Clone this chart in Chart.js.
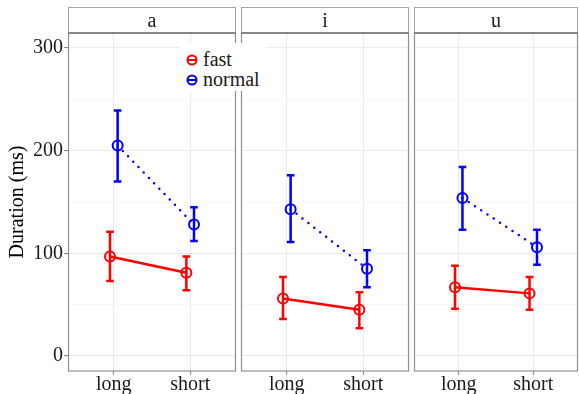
<!DOCTYPE html>
<html>
<head>
<meta charset="utf-8">
<script src="https://cdn.jsdelivr.net/npm/chart.js@4"></script>
<style>
  html, body { margin: 0; padding: 0; background: #fff; overflow: hidden; }
  #wrap { position: relative; width: 579px; height: 394px; }
  canvas { position: absolute; top: 0; }
  #legend { position: absolute; left: 180px; top: 43px; width: 86px; height: 48px; background: #fff;
            font-family: 'Liberation Serif', serif; font-size: 20px; color: #1a1a1a; }
  .item { position: absolute; left: 0; height: 20px; line-height: 20px; }
  .item svg { position: absolute; left: 5px; top: 3px; }
  .item span { position: absolute; left: 23px; top: -1px; white-space: nowrap; }
</style>
</head>
<body>
<div id="wrap">
  <canvas id="c0" width="238" height="394" style="left:0px"></canvas>
  <canvas id="c1" width="172" height="394" style="left:239px"></canvas>
  <canvas id="c2" width="167" height="394" style="left:412px"></canvas>
  <div id="legend">
    <div class="item" style="top:7px">
      <svg width="14" height="14"><circle cx="7" cy="7" r="4.5" fill="none" stroke="#FF0000" stroke-width="2"/><line x1="3" y1="7" x2="11" y2="7" stroke="#FF0000" stroke-width="2"/></svg>
      <span>fast</span>
    </div>
    <div class="item" style="top:27px">
      <svg width="14" height="14"><circle cx="7" cy="7" r="4.5" fill="none" stroke="#0000FF" stroke-width="2"/><line x1="3" y1="7" x2="11" y2="7" stroke="#0000FF" stroke-width="2"/></svg>
      <span>normal</span>
    </div>
  </div>
</div>
<script>
const vowels = ['a', 'i', 'u'];
const lengths = ['long', 'short'];
const fastMean = [[97, 81], [56, 45], [67, 61]];
const fastLo = [[73, 64], [36, 27], [46, 45]];
const fastHi = [[121, 97], [77, 62], [88, 77]];
const normalMean = [[205, 128], [143, 85], [154, 106]];
const normalLo = [[170, 112], [111, 67], [123, 89]];
const normalHi = [[239, 145], [176, 103], [184, 123]];
const yTicks = [0, 100, 200, 300];

const serif = 'Liberation Serif';
const dodge = 0.05;

function errorBars(k) {
  return {
    id: 'errorBars' + k,
    beforeDatasetsDraw(chart) {
      const c = chart.ctx, xs = chart.scales.x, ys = chart.scales.y;
      const series = [
        { lo: fastLo[k], hi: fastHi[k], off: -dodge, color: '#FF0000' },
        { lo: normalLo[k], hi: normalHi[k], off: dodge, color: '#0000FF' }
      ];
      c.save();
      c.lineWidth = 2.5;
      series.forEach(s => {
        c.strokeStyle = s.color;
        for (let i = 0; i < lengths.length; i++) {
          const x = xs.getPixelForValue(i + 1 + s.off);
          const y1 = ys.getPixelForValue(s.lo[i]);
          const y2 = ys.getPixelForValue(s.hi[i]);
          c.beginPath();
          c.moveTo(x, y1); c.lineTo(x, y2);
          c.moveTo(x - 3.8, y1); c.lineTo(x + 3.8, y1);
          c.moveTo(x - 3.8, y2); c.lineTo(x + 3.8, y2);
          c.stroke();
        }
      });
      c.restore();
    }
  };
}

function facetFrame(k) {
  return {
    id: 'facetFrame' + k,
    afterDraw(chart) {
      const c = chart.ctx, a = chart.chartArea;
      c.save();
      // strip
      c.strokeStyle = '#a6a6a6';
      c.lineWidth = 1;
      c.strokeRect(a.left + 0.5, 7.5, a.right - a.left - 1, a.top - 7.5);
      c.fillStyle = '#1a1a1a';
      c.font = '20px ' + serif;
      c.textAlign = 'center';
      c.textBaseline = 'middle';
      c.fillText(vowels[k], (a.left + a.right) / 2, 21.5);
      // panel border
      c.strokeStyle = '#8f8f8f';
      c.lineWidth = 1.2;
      c.strokeRect(a.left + 0.5, a.top, a.right - a.left - 1, a.bottom - a.top);
      c.strokeStyle = '#7a7a7a';
      c.lineWidth = 1.6;
      c.beginPath(); c.moveTo(a.left, a.top); c.lineTo(a.right, a.top); c.stroke();
      c.restore();
    }
  };
}

vowels.forEach((v, k) => {
  const first = k === 0;
  const pad = [{ top: 33, left: 0, right: 2, bottom: 0 },
               { top: 33, left: 2, right: 2, bottom: 0 },
               { top: 33, left: 2, right: 1, bottom: 0 }][k];
  new Chart(document.getElementById('c' + k), {
    type: 'line',
    data: {
      datasets: [
        {
          label: 'fast',
          data: lengths.map((l, i) => ({ x: i + 1 - dodge, y: fastMean[k][i] })),
          borderColor: '#FF0000',
          borderWidth: 2.5,
          pointRadius: 5,
          pointBorderWidth: 2,
          pointBorderColor: '#FF0000',
          pointBackgroundColor: 'rgba(0,0,0,0)',
          tension: 0
        },
        {
          label: 'normal',
          data: lengths.map((l, i) => ({ x: i + 1 + dodge, y: normalMean[k][i] })),
          borderColor: '#0000FF',
          borderWidth: 2.5,
          borderDash: [0, 7.5],
          borderCapStyle: 'round',
          pointRadius: 5,
          pointBorderWidth: 2,
          pointBorderColor: '#0000FF',
          pointBackgroundColor: 'rgba(0,0,0,0)',
          tension: 0
        }
      ]
    },
    options: {
      responsive: false,
      animation: false,
      events: [],
      layout: { padding: pad, autoPadding: false },
      plugins: { legend: { display: false }, tooltip: { enabled: false } },
      scales: {
        x: {
          type: 'linear',
          min: 0.4,
          max: 2.6,
          afterBuildTicks: s => { s.ticks = lengths.map((l, i) => ({ value: i + 1 })); },
          afterFit: s => { s.height = 23; s.paddingLeft = 0; s.paddingRight = 0; },
          border: { display: false },
          grid: { color: '#ebebeb', lineWidth: 1, tickLength: 4, tickColor: '#8a8a8a' },
          ticks: {
            callback: val => lengths[val - 1],
            color: '#1a1a1a',
            font: { family: serif, size: 20 },
            padding: -2,
            maxRotation: 0
          }
        },
        y: {
          min: -14.6,
          max: 314.6,
          afterBuildTicks: s => {
            s.ticks = [];
            for (let t = 0; t <= 300; t += 50) s.ticks.push({ value: t });
          },
          afterFit: s => { s.width = first ? 68 : 0; s.paddingTop = 0; s.paddingBottom = 0; },
          border: { display: false },
          grid: {
            color: c => (c.tick && c.tick.value % 100 === 0) ? '#ebebeb' : '#f3f3f3',
            lineWidth: c => (c.tick && c.tick.value % 100 === 0) ? 1.1 : 0.7,
            drawTicks: first,
            tickLength: 4,
            tickColor: c => (c.tick && yTicks.includes(c.tick.value)) ? '#8a8a8a' : 'rgba(0,0,0,0)'
          },
          ticks: {
            display: first,
            autoSkip: false,
            callback: val => yTicks.includes(val) ? String(val) : '',
            color: '#1a1a1a',
            font: { family: serif, size: 20 },
            padding: 1
          },
          title: {
            display: first,
            text: 'Duration (ms)',
            color: '#000',
            font: { family: serif, size: 20 },
            padding: { top: 6, bottom: 0 }
          }
        }
      }
    },
    plugins: [errorBars(k), facetFrame(k)]
  });
});
</script>
</body>
</html>
